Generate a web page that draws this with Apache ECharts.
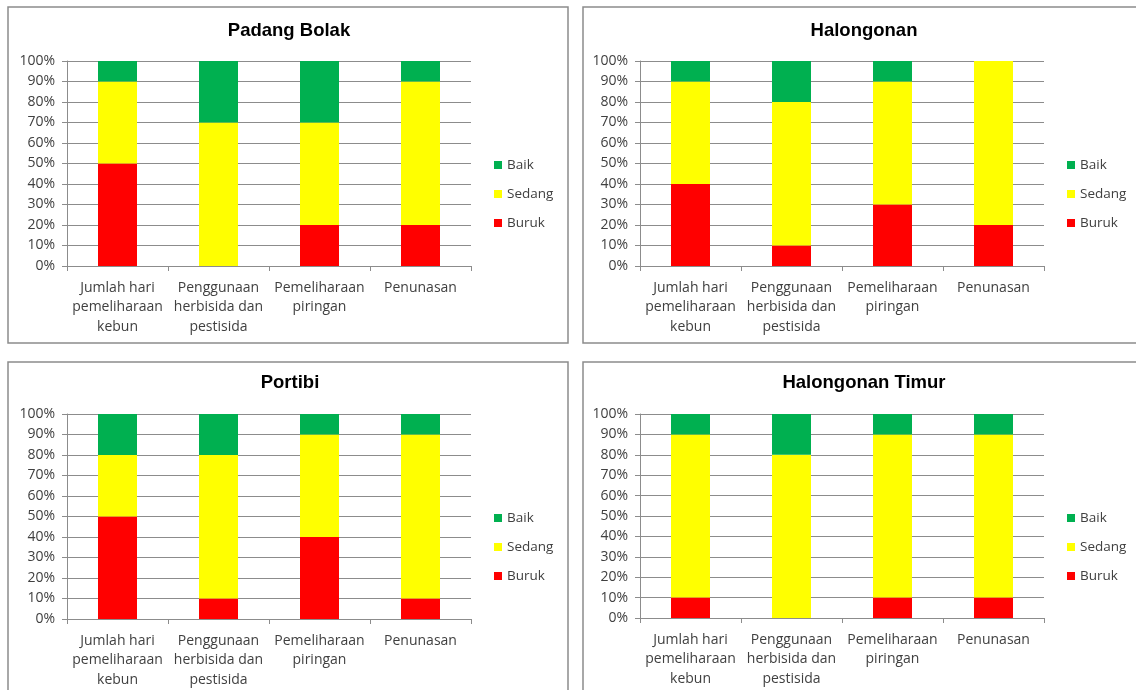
<!DOCTYPE html>
<html>
<head>
<meta charset="utf-8">
<title>Kondisi kebun</title>
<script src="https://cdn.jsdelivr.net/npm/echarts@6/dist/echarts.min.js"></script>
<style>
    html, body { margin: 0; padding: 0; background: #fff; }
    #main { width: 1136px; height: 690px; }
</style>
</head>
<body>
<div id="main"></div>
<script>
/****************       data 数据         *****************/
var categories = ['Jumlah hari\npemeliharaan\nkebun', 'Penggunaan\nherbisida dan\npestisida', 'Pemeliharaan\npiringan', 'Penunasan'];
var seriesNames = ['Baik', 'Sedang', 'Buruk'];
var yTicks = [0, 10, 20, 30, 40, 50, 60, 70, 80, 90, 100];

var titles = ['Padang Bolak', 'Halongonan', 'Portibi', 'Halongonan Timur'];

// Buruk / Sedang / Baik (%)
var padangBuruk  = [50, 0, 20, 20];
var padangSedang = [40, 70, 50, 70];
var padangBaik   = [10, 30, 30, 10];

var halongBuruk  = [40, 10, 30, 20];
var halongSedang = [50, 70, 60, 80];
var halongBaik   = [10, 20, 10, 0];

var portibiBuruk  = [50, 10, 40, 10];
var portibiSedang = [30, 70, 50, 80];
var portibiBaik   = [20, 20, 10, 10];

var timurBuruk  = [10, 0, 10, 10];
var timurSedang = [80, 80, 80, 80];
var timurBaik   = [10, 20, 10, 10];

var panelData = [
    [padangBuruk, padangSedang, padangBaik],
    [halongBuruk, halongSedang, halongBaik],
    [portibiBuruk, portibiSedang, portibiBaik],
    [timurBuruk, timurSedang, timurBaik]
];

/****************       layout 布局         *****************/
var colors = { Baik: '#00B050', Sedang: '#FFFF00', Buruk: '#FF0000' };
var labelFont = '"Open Sans", "DejaVu Sans", sans-serif';

// 每个面板：边框、绘图区、标题、图例
var panels = [
    { box: [8, 7, 560, 336],   grid: [67, 61, 404, 205],   titleX: 289, titleY: 21,  legendX: 494, legendY: 157 },
    { box: [583, 7, 570, 336], grid: [640, 61, 404, 205],  titleX: 864, titleY: 21,  legendX: 1067, legendY: 157 },
    { box: [8, 362, 560, 340], grid: [67, 414, 404, 205],  titleX: 290, titleY: 373, legendX: 494, legendY: 510 },
    { box: [583, 362, 570, 340], grid: [640, 414, 404, 204], titleX: 864, titleY: 373, legendX: 1067, legendY: 510 }
];

var option = {
    backgroundColor: '#fff',
    animation: false,
    title: [],
    legend: [],
    grid: [],
    xAxis: [],
    yAxis: [],
    series: [],
    graphic: []
};

panels.forEach(function(p, i) {
    // 面板边框
    option.graphic.push({
        type: 'rect',
        shape: { x: p.box[0], y: p.box[1], width: p.box[2], height: p.box[3] },
        style: { fill: 'none', stroke: '#8c8c8c', lineWidth: 1.5 },
        silent: true
    });

    option.title.push({
        text: titles[i],
        left: p.titleX,
        top: p.titleY,
        textAlign: 'center',
        padding: 0,
        textStyle: { fontFamily: '"Liberation Sans", Arial, sans-serif', fontSize: 18.5, fontWeight: 'bold', color: '#000' }
    });

    option.legend.push({
        data: seriesNames,
        orient: 'vertical',
        left: p.legendX,
        top: p.legendY,
        padding: 0,
        itemWidth: 8,
        itemHeight: 8,
        itemGap: 13,
        icon: 'rect',
        selectedMode: false,
        textStyle: { fontFamily: labelFont, fontSize: 13.5, color: '#404040', lineHeight: 16 }
    });

    option.grid.push({ left: p.grid[0], top: p.grid[1], width: p.grid[2], height: p.grid[3] });

    option.xAxis.push({
        type: 'category',
        gridIndex: i,
        data: categories,
        axisLine: { lineStyle: { color: '#8c8c8c' } },
        axisTick: { show: true, length: 5, lineStyle: { color: '#8c8c8c' } },
        axisLabel: {
            interval: 0,
            margin: 12,
            fontFamily: labelFont,
            fontSize: 14,
            lineHeight: 19.5,
            color: '#404040'
        }
    });

    option.yAxis.push({
        type: 'value',
        gridIndex: i,
        min: yTicks[0],
        max: yTicks[yTicks.length - 1],
        interval: yTicks[1] - yTicks[0],
        axisLine: { show: true, lineStyle: { color: '#8c8c8c' } },
        axisTick: { show: true, length: 5, lineStyle: { color: '#8c8c8c' } },
        splitLine: { lineStyle: { color: '#8c8c8c', width: 1 } },
        axisLabel: {
            margin: 12,
            fontFamily: labelFont,
            fontSize: 14,
            color: '#404040',
            formatter: '{value}%'
        }
    });

    // 堆叠顺序：Buruk 在下，Sedang 中间，Baik 在上
    var order = ['Buruk', 'Sedang', 'Baik'];
    order.forEach(function(name, k) {
        option.series.push({
            name: name,
            type: 'bar',
            stack: 'total' + i,
            xAxisIndex: i,
            yAxisIndex: i,
            barWidth: 39,
            itemStyle: { color: colors[name] },
            data: panelData[i][k]
        });
    });
});

var myChart = echarts.init(document.getElementById('main'), null, { renderer: 'canvas' });
myChart.setOption(option);
</script>
</body>
</html>
